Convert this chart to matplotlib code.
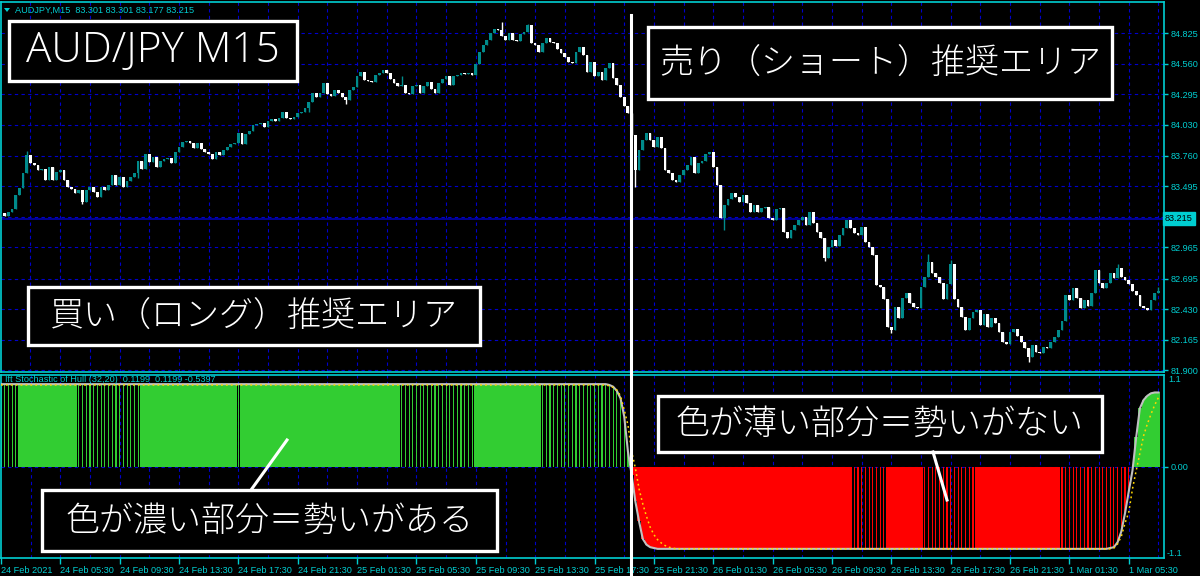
import numpy as np
import matplotlib.pyplot as plt
from matplotlib.patches import Rectangle, Polygon
from matplotlib.lines import Line2D

plt.rcParams['font.family'] = ['Noto Sans CJK JP', 'DejaVu Sans']

# ---------------- data ----------------
header = "AUDJPY,M15  83.301 83.301 83.177 83.215"
ind_header = "Ift Stochastic of Hull (32,20)  0.1199  0.1199 -0.5397"
last_price = 83.215
first_open = 83.23

# M15 closes, one per bar (open = previous close)
closes = [
    83.26, 83.24, 83.27, 83.30, 83.42, 83.48, 83.61, 83.77, 83.70, 83.68,
    83.64, 83.65, 83.55, 83.66, 83.55, 83.62, 83.64, 83.55, 83.49, 83.47,
    83.44, 83.46, 83.36, 83.46, 83.49, 83.45, 83.40, 83.49, 83.46, 83.51,
    83.59, 83.51, 83.58, 83.49, 83.54, 83.58, 83.61, 83.72, 83.65, 83.78,
    83.71, 83.75, 83.66, 83.72, 83.73, 83.74, 83.70, 83.79, 83.84, 83.88,
    83.89, 83.87, 83.83, 83.87, 83.82, 83.79, 83.78, 83.73, 83.79, 83.77,
    83.81, 83.84, 83.86, 83.87, 83.96, 83.86, 83.95, 83.98, 84.03, 84.04,
    84.05, 84.01, 84.06, 84.08, 84.06, 84.09, 84.14, 84.09, 84.08, 84.10,
    84.13, 84.14, 84.18, 84.23, 84.31, 84.27, 84.31, 84.39, 84.30, 84.28,
    84.33, 84.31, 84.27, 84.25, 84.33, 84.36, 84.45, 84.49, 84.42, 84.41,
    84.40, 84.46, 84.48, 84.51, 84.48, 84.43, 84.39, 84.37, 84.38, 84.31,
    84.30, 84.37, 84.38, 84.31, 84.37, 84.40, 84.34, 84.31, 84.39, 84.43,
    84.45, 84.38, 84.45, 84.46, 84.48, 84.47, 84.48, 84.46, 84.56, 84.66,
    84.72, 84.77, 84.83, 84.86, 84.85, 84.80, 84.77, 84.83, 84.77, 84.76,
    84.82, 84.84, 84.90, 84.74, 84.72, 84.66, 84.74, 84.78, 84.75, 84.74,
    84.69, 84.65, 84.62, 84.58, 84.57, 84.66, 84.71, 84.64, 84.49, 84.58,
    84.45, 84.49, 84.42, 84.52, 84.57, 84.44, 84.38, 84.27, 84.19, 84.13,
    83.94, 83.64, 83.81, 83.90, 83.96, 83.90, 83.84, 83.92, 83.83, 83.64,
    83.61, 83.55, 83.53, 83.59, 83.64, 83.68, 83.75, 83.61, 83.70, 83.72,
    83.78, 83.79, 83.66, 83.51, 83.22, 83.33, 83.39, 83.44, 83.40, 83.36,
    83.42, 83.35, 83.27, 83.33, 83.27, 83.31, 83.32, 83.22, 83.20, 83.30,
    83.31, 83.10, 83.05, 83.12, 83.16, 83.20, 83.23, 83.16, 83.27, 83.18,
    83.10, 83.05, 82.87, 82.97, 83.03, 82.98, 83.07, 83.13, 83.20, 83.13,
    83.09, 83.07, 83.14, 83.01, 82.97, 82.90, 82.64, 82.62, 82.52, 82.27,
    82.25, 82.45, 82.35, 82.53, 82.57, 82.48, 82.45, 82.44, 82.62, 82.71,
    82.84, 82.74, 82.71, 82.66, 82.52, 82.65, 82.82, 82.52, 82.45, 82.36,
    82.25, 82.35, 82.40, 82.42, 82.29, 82.39, 82.27, 82.35, 82.31, 82.23,
    82.14, 82.13, 82.23, 82.26, 82.20, 82.14, 82.09, 82.01, 82.12, 82.06,
    82.05, 82.10, 82.09, 82.14, 82.19, 82.25, 82.33, 82.55, 82.51, 82.61,
    82.53, 82.44, 82.51, 82.46, 82.57, 82.77, 82.66, 82.61, 82.66, 82.74,
    82.70, 82.79, 82.71, 82.68, 82.65, 82.59, 82.55, 82.46, 82.44, 82.42,
    82.51, 82.57, 82.59,
]
# wicks that stick out past the body
wick_high = {7: 83.80, 108: 84.45, 135: 84.92, 142: 84.91, 250: 82.91,
             256: 82.86, 301: 82.82, 312: 82.62}
wick_low = {22: 83.34, 37: 83.57, 83: 84.14, 93: 84.21, 171: 83.49,
            195: 83.12, 222: 82.85, 240: 82.22, 277: 81.97}

price_ticks = [84.825, 84.560, 84.295, 84.030, 83.760, 83.495,
               82.965, 82.695, 82.430, 82.165, 81.900]
hidden_grid = 83.230

# IFT stochastic of Hull (main) and its signal
ift = ([0.99] * 164
       + [0.98, 0.96, 0.91, 0.82, 0.60, 0.18, -0.10, -0.42, -0.66, -0.87,
          -0.94, -0.97, -0.98]
       + [-0.99] * 122
       + [-0.98, -0.97, -0.91, -0.78, -0.56, -0.30, -0.05, 0.35, 0.70,
          0.80, 0.85, 0.88, 0.89, 0.89])
signal = ([0.98] * 164
          + [0.97, 0.95, 0.92, 0.85, 0.68, 0.50, 0.18, -0.02, -0.27, -0.45,
             -0.60, -0.73, -0.82, -0.88, -0.92, -0.95, -0.97, -0.98]
          + [-0.99] * 117
          + [-0.99, -0.98, -0.93, -0.84, -0.68, -0.55, -0.27, -0.05, 0.16,
             0.37, 0.51, 0.63, 0.74, 0.83])
# bar ranges drawn as the "weak" (thin) histogram
weak_runs = [(0, 4), (21, 37), (64, 64), (108, 127), (146, 169),
             (230, 238), (249, 262), (286, 305)]

time_ticks = list(range(0, 305, 16))
time_labels = ["24 Feb 2021", "24 Feb 05:30", "24 Feb 09:30", "24 Feb 13:30",
               "24 Feb 17:30", "24 Feb 21:30", "25 Feb 01:30", "25 Feb 05:30",
               "25 Feb 09:30", "25 Feb 13:30", "25 Feb 17:30", "25 Feb 21:30",
               "26 Feb 01:30", "26 Feb 05:30", "26 Feb 09:30", "26 Feb 13:30",
               "26 Feb 17:30", "26 Feb 21:30", "1 Mar 01:30", "1 Mar 05:30"]

notes = [
    ((648, 27, 1112, 99), "売り（ショート）推奨エリア"),
    ((28, 287, 480, 345), "買い（ロング）推奨エリア"),
    ((658, 396, 1102, 452), "色が薄い部分＝勢いがない"),
    ((42, 490, 497, 551), "色が濃い部分＝勢いがある"),
]
title_box = (9, 21, 297, 81)
title = "AUD/JPY M15"

# ---------------- style ----------------
W, H = 1200, 576
CYAN = '#00CED1'
GRID = '#0000CD'
BULL = '#008B8B'
GREEN = '#32CD32'
RED = '#FF0000'
DASH = (0, (3, 3))


def fbox(x0, y0, x1, y1):
    return [x0 / W, 1 - y1 / H, (x1 - x0) / W, (y1 - y0) / H]


def boxed(x0, y0, x1, y1):
    fig.add_artist(Rectangle((x0 / W, 1 - y1 / H), (x1 - x0) / W, (y1 - y0) / H,
                             transform=fig.transFigure, fc='black', ec='white',
                             lw=2.4, zorder=5))
    return (x0 + x1) / 2 / W, 1 - (y0 + y1) / 2 / H


fig = plt.figure(figsize=(W / 100, H / 100), dpi=100, facecolor='black')
ax1 = fig.add_axes(fbox(1, 2, 1164, 372))
ax2 = fig.add_axes(fbox(1, 375, 1164, 558))

n = len(closes)
idx = np.arange(n)
xlim = (0.054, 313.5)

for ax in (ax1, ax2):
    ax.set_facecolor('black')
    ax.set_xlim(*xlim)
    for s in ax.spines.values():
        s.set_color(CYAN)
        s.set_linewidth(1.2)
    for i in range(8, n, 8):
        ax.axvline(i, color=GRID, lw=0.8, ls=DASH, zorder=0)

# ---- price panel ----
ax1.set_ylim(81.883, 85.097)
for p in price_ticks + [hidden_grid]:
    ax1.axhline(p, color=GRID, lw=0.8, ls=DASH, zorder=0)
ax1.axhline(last_price, color='#0000A0', lw=1.3, zorder=0.5)

c = np.array(closes)
o = np.r_[first_open, c[:-1]]
top = np.maximum(o, c)
bot = np.minimum(o, c)
hi = top.copy()
lo = bot.copy()
for k, v in wick_high.items():
    hi[k] = v
for k, v in wick_low.items():
    lo[k] = v
cols = np.where(c >= o, BULL, 'white')
ax1.vlines(idx, lo, hi, colors=cols, lw=1, zorder=2)
ax1.bar(idx, np.maximum(top - bot, 0.006), bottom=bot, width=0.74,
        color=cols, lw=0, zorder=3)

ax1.set_xticks([])
ax1.yaxis.tick_right()
ax1.set_yticks(price_ticks)
ax1.set_yticklabels([f"{p:.3f}" for p in price_ticks])
ax1.tick_params(axis='y', colors=CYAN, labelsize=6.6, length=3, width=1,
                pad=2, labelfontfamily='Liberation Sans')
ax1.text(1 + 1 / 1163, last_price, f"{last_price:.3f}",
         transform=ax1.get_yaxis_transform(), ha='left', va='center',
         fontsize=6.6, family='Liberation Sans', color='black',
         bbox=dict(boxstyle='square,pad=0.2', fc=CYAN, ec=CYAN))

# ---- indicator panel ----
ax2.set_ylim(-1.1, 1.1)
ax2.axhline(0, color=GRID, lw=0.8, ls=DASH, zorder=0)
v = np.array(ift)
weak = np.zeros(n, bool)
for a, b in weak_runs:
    weak[a:b + 1] = True
hcol = np.where(v >= 0, GREEN, RED)
ax2.bar(idx[~weak], v[~weak], width=1.0, color=hcol[~weak], lw=0,
        antialiased=False, zorder=1)
ax2.bar(idx[weak], v[weak], width=0.3, color=hcol[weak], lw=0,
        antialiased=False, zorder=1)
ax2.plot(idx, v, color='#C0C0C0', lw=1.5, zorder=3)
ax2.plot(idx, signal, color='#FFD700', lw=1.1, ls=(0, (1.2, 2)), zorder=4)

ax2.text(4 / 1163, 0.975, ind_header, transform=ax2.transAxes, color=CYAN,
         fontsize=6.6, family='Liberation Sans', va='center', zorder=5)

ax2.yaxis.tick_right()
ax2.set_yticks([0])
ax2.set_yticklabels(["0.00"])
ax2.tick_params(axis='y', colors=CYAN, labelsize=6.6, length=3, width=1,
                pad=2, labelfontfamily='Liberation Sans')
ax2.text(1 + 4 / 1163, 1.0, "1.1", transform=ax2.transAxes, ha='left',
         va='top', color=CYAN, fontsize=6.6, family='Liberation Sans')
ax2.text(1 + 3 / 1163, 0.0, "-1.1", transform=ax2.transAxes, ha='left',
         va='bottom', color=CYAN, fontsize=6.6, family='Liberation Sans')

ax2.set_xticks(time_ticks)
ax2.set_xticklabels(time_labels, ha='left')
ax2.tick_params(axis='x', colors=CYAN, labelsize=6.6, length=4, width=1,
                pad=1.5, labelfontfamily='Liberation Sans')

# ---- header ----
fig.text(15 / W, 1 - 10 / H, header, color=CYAN, fontsize=6.6,
         family='Liberation Sans', va='center')
fig.add_artist(Polygon([(4 / W, 1 - 8 / H), (10 / W, 1 - 8 / H),
                        (7 / W, 1 - 12 / H)], closed=True, fc=CYAN, ec='none',
                       transform=fig.transFigure))

# ---- annotations ----
cx, cy = boxed(*title_box)
fig.text(cx, cy, title, color='white', fontsize=30.5, ha='center', va='center',
         family=['Open Sans', 'DejaVu Sans'], fontweight='light', zorder=6)
for box, txt in notes:
    cx, cy = boxed(*box)
    fig.text(cx, cy, txt, color='white', fontsize=24.5, ha='center',
             va='center', fontweight='light', zorder=6)

for (xa, ya), (xb, yb) in [((631, 15), (631, 576)), ((287, 440), (251, 490)),
                           ((933, 452), (947, 500))]:
    fig.add_artist(Line2D([xa / W, xb / W], [1 - ya / H, 1 - yb / H],
                          color='white', lw=2.2, transform=fig.transFigure,
                          zorder=7))

fig.savefig('out.png', dpi=100, facecolor='black')
